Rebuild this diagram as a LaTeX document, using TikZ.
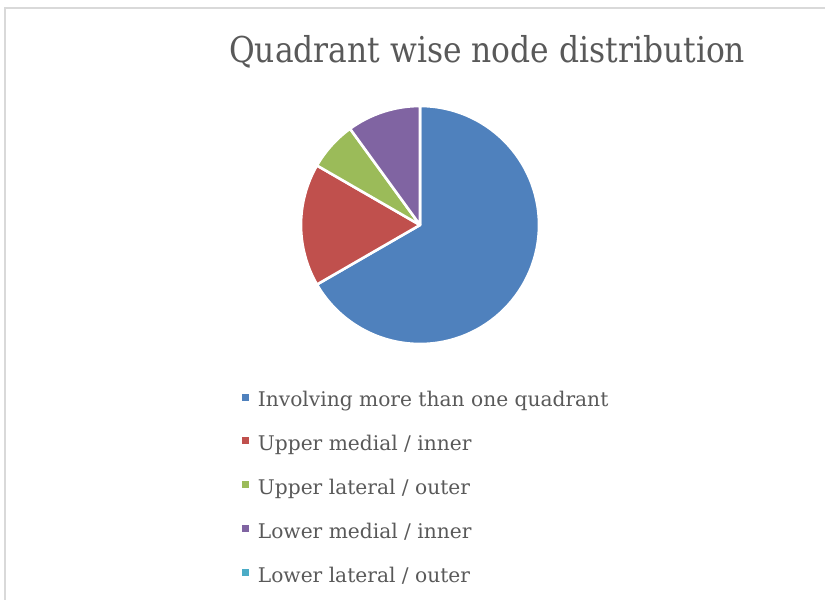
\documentclass[tikz,border=0pt]{standalone}
\usepackage{fontspec}
\setmainfont{DejaVu Serif}
\definecolor{cblue}{HTML}{4F81BD}
\definecolor{cred}{HTML}{C0504D}
\definecolor{cgreen}{HTML}{9BBB59}
\definecolor{cpurple}{HTML}{8064A2}
\definecolor{ccyan}{HTML}{4BACC6}
\definecolor{ctext}{HTML}{595959}
\definecolor{cframe}{HTML}{D9D9D9}
\tikzset{
  slice/.style={draw=white, line width=2.6pt, line join=round},
  legsq/.style={minimum size=7pt, inner sep=0pt, outer sep=0pt},
  legtext/.style={anchor=base west, inner sep=0pt, text=ctext, font=\fontsize{20.2}{24}\selectfont},
}
\begin{document}
\begin{tikzpicture}[x=1pt,y=1pt]
\useasboundingbox (0,0) rectangle (825,-600);
% chart frame
\draw[cframe, line width=2pt] (4.5,-600) -- (4.5,-7.5) -- (825,-7.5);
% title
\node[anchor=base west, inner sep=0pt, text=ctext, font=\fontsize{35.6}{40}\selectfont] (title) at (229,-62.3) {\resizebox{516pt}{\height}{Quadrant wise node distribution}};
% pie
\coordinate (c) at (420,-225);
\def\R{119}
\fill[cblue, slice] (c) -- ++(90:\R) arc[start angle=90, end angle=-150, radius=\R] -- cycle;
\fill[cred, slice] (c) -- ++(210:\R) arc[start angle=210, end angle=150, radius=\R] -- cycle;
\fill[cgreen, slice] (c) -- ++(150:\R) arc[start angle=150, end angle=126, radius=\R] -- cycle;
\fill[cpurple, slice] (c) -- ++(126:\R) arc[start angle=126, end angle=90, radius=\R] -- cycle;
% legend
\node[legsq, fill=cblue] (s1) at (245.5,-397) {};
\node[legsq, fill=cred] (s2) at (245.5,-440.8) {};
\node[legsq, fill=cgreen] (s3) at (245.5,-484.8) {};
\node[legsq, fill=cpurple] (s4) at (245.5,-528.8) {};
\node[legsq, fill=ccyan] (s5) at (245.5,-572.5) {};
\node[legtext] (l1) at (257.7,-406.7) {Involving more than one quadrant};
\node[legtext] (l2) at (257.7,-450.5) {Upper medial / inner};
\node[legtext] (l3) at (257.7,-494.5) {Upper lateral / outer};
\node[legtext] (l4) at (257.7,-538.5) {Lower medial / inner};
\node[legtext] (l5) at (257.7,-582.2) {Lower lateral / outer};
\end{tikzpicture}
\end{document}
